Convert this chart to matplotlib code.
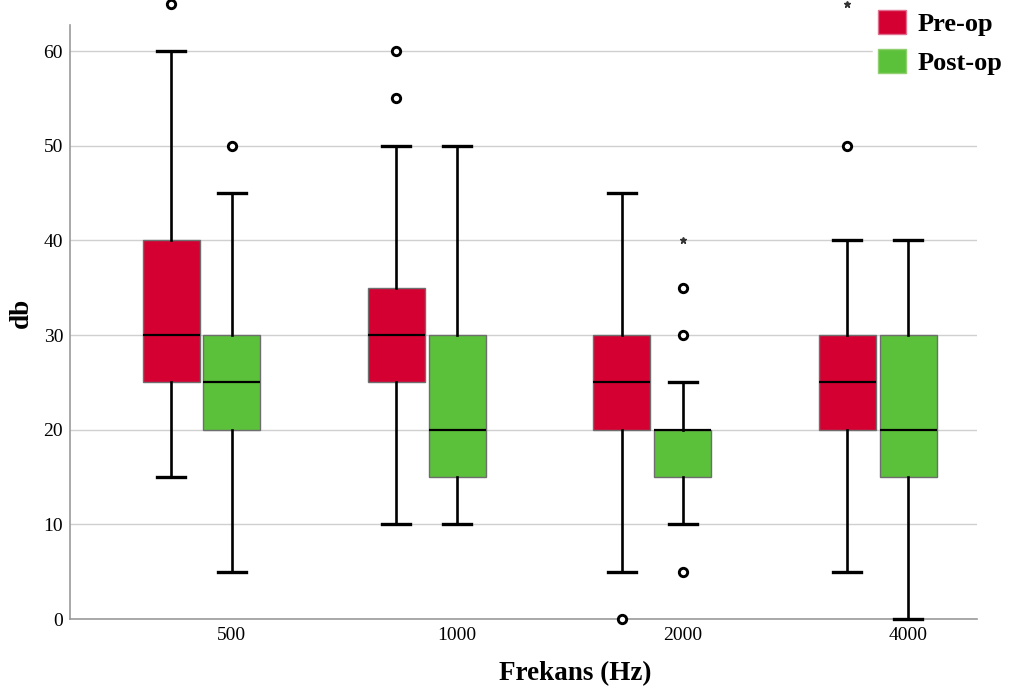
import numpy as np
import matplotlib.pyplot as plt
from matplotlib.patches import Patch

plt.rcParams['font.family'] = ['Liberation Serif', 'DejaVu Serif']

freqs = ['500', '1000', '2000', '4000']

# five-number summaries per frequency: whislo, q1, med, q3, whishi
pre_stats = [
    [15, 25, 30, 40, 60],
    [10, 25, 30, 35, 50],
    [5, 20, 25, 30, 45],
    [5, 20, 25, 30, 40],
]
post_stats = [
    [5, 20, 25, 30, 45],
    [10, 15, 20, 30, 50],
    [10, 15, 20, 20, 25],
    [0, 15, 20, 30, 40],
]
pre_outliers = [[65], [55, 60], [0], [50]]
post_outliers = [[50], [], [5, 30, 35], []]
pre_extremes = [[], [], [], [65]]
post_extremes = [[], [], [40], []]

pre_color = '#d50032'
post_color = '#5cc13a'


def make_stats(rows, outs):
    stats = []
    for (lo, q1, med, q3, hi), fl in zip(rows, outs):
        stats.append(dict(whislo=lo, q1=q1, med=med, q3=q3, whishi=hi, fliers=fl))
    return stats


fig = plt.figure(figsize=(10.15, 6.94), dpi=100)
ax = fig.add_axes([0.069, 0.108, 0.8936, 0.856])

x = np.arange(len(freqs))
offset = 0.27
width = 0.253

for stats_rows, outs, extremes, pos, color in [
    (pre_stats, pre_outliers, pre_extremes, x - offset, pre_color),
    (post_stats, post_outliers, post_extremes, x, post_color),
]:
    bp = ax.bxp(make_stats(stats_rows, outs), positions=pos, widths=width,
                capwidths=0.125, patch_artist=True, manage_ticks=False,
                boxprops=dict(facecolor=color, edgecolor='#6e6e6e', linewidth=1.0),
                medianprops=dict(color='black', linewidth=1.6),
                whiskerprops=dict(color='black', linewidth=1.9),
                capprops=dict(color='black', linewidth=2.4, zorder=3),
                flierprops=dict(marker='o', markerfacecolor='white',
                                markeredgecolor='black', markersize=6,
                                markeredgewidth=2.1, zorder=3))
    for fl in bp['fliers']:
        fl.set_clip_on(False)
    for cap in bp['caps']:
        cap.set_clip_on(False)
    for p, ex in zip(pos, extremes):
        if ex:
            ax.plot([p] * len(ex), ex, linestyle='none', marker='*',
                    color='#333333', markersize=5, clip_on=False)

ax.set_xlim(-0.718, 3.306)
ax.set_ylim(0, 62.75)
ax.set_yticks(np.arange(0, 61, 10))
ax.set_xticks(x)
ax.set_xticklabels(freqs)
ax.tick_params(length=0, labelsize=14)
ax.tick_params(axis='y', pad=5)
ax.tick_params(axis='x', pad=6)

ax.grid(axis='y', color='#d0d0d0', linewidth=1.0)
ax.set_axisbelow(True)
for side in ['top', 'right']:
    ax.spines[side].set_visible(False)
for side in ['left', 'bottom']:
    ax.spines[side].set_color('#9a9a9a')
    ax.spines[side].set_linewidth(1.2)

ax.set_ylabel('db', fontsize=19.5, fontweight='bold')
ax.yaxis.set_label_coords(-0.04, 0.515)
ax.set_xlabel('Frekans (Hz)', fontsize=19.5, fontweight='bold')
ax.xaxis.set_label_coords(0.5565, -0.071)

handles = [Patch(facecolor=pre_color, edgecolor='#e07090', label='Pre-op'),
           Patch(facecolor=post_color, edgecolor='#90d070', label='Post-op')]
leg = fig.legend(handles=handles, loc='upper right', bbox_to_anchor=(1.006, 1.012),
                 frameon=True, fancybox=False, edgecolor='white', framealpha=1,
                 prop=dict(size=19, weight='bold'), handlelength=1.05,
                 handleheight=1.0, handletextpad=0.45, labelspacing=0.5,
                 borderpad=0.2)

fig.savefig('out.png', dpi=100)
